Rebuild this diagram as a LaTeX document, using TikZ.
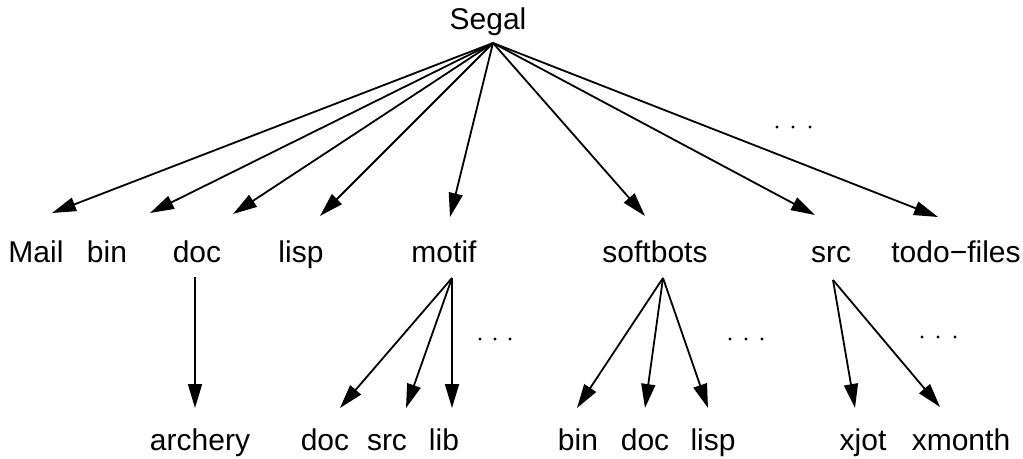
\documentclass[tikz,border=0pt]{standalone}
\usepackage{fontspec}
\setmainfont{Liberation Sans}
\usetikzlibrary{arrows.meta}
\begin{document}
\begin{tikzpicture}[x=1pt,y=-1pt,
  lbl/.style={anchor=base,inner sep=0pt,font=\fontsize{30}{36}\selectfont},
  arr/.style={line width=1.8pt,-{Triangle[length=24pt,width=14pt]}},
  dotmark/.style={circle,fill,inner sep=0pt,minimum size=3.4pt}]
\useasboundingbox (0,0) rectangle (1023,458);
% labels
\node[lbl] (segal) at (488,29) {Segal};
\node[lbl] (mail) at (36,262) {Mail};
\node[lbl] (bin) at (107,262) {bin};
\node[lbl] (doc) at (197,262) {doc};
\node[lbl] (lisp) at (301,262) {lisp};
\node[lbl] (motif) at (444,262) {motif};
\node[lbl] (softbots) at (655,262) {softbots};
\node[lbl] (src) at (831,262) {src};
\node[lbl] (todo) at (956,262) {todo−files};
\node[lbl] (archery) at (200,450) {archery};
\node[lbl] (mdoc) at (325,450) {doc};
\node[lbl] (msrc) at (387,450) {src};
\node[lbl] (mlib) at (444,450) {lib};
\node[lbl] (sbin) at (578,450) {bin};
\node[lbl] (sdoc) at (645,450) {doc};
\node[lbl] (slisp) at (713,450) {lisp};
\node[lbl] (xjot) at (863,450) {xjot};
\node[lbl] (xmonth) at (961,450) {xmonth};
% connector end points
\coordinate (segal-out) at (493,43);
\coordinate (mail-in) at (52,213);
\coordinate (bin-in) at (150,213);
\coordinate (doc-in) at (233,214);
\coordinate (lisp-in) at (320,216);
\coordinate (motif-in) at (450,217);
\coordinate (softbots-in) at (645,216);
\coordinate (src-in) at (815,215);
\coordinate (todo-in) at (938,217);
\coordinate (doc-out) at (195,277);
\coordinate (motif-out) at (452,278);
\coordinate (softbots-out) at (663,278);
\coordinate (src-out) at (833,280);
\coordinate (archery-in) at (195,408);
\coordinate (mdoc-in) at (340,408);
\coordinate (msrc-in) at (406,408);
\coordinate (mlib-in) at (452,408);
\coordinate (sbin-in) at (577,408);
\coordinate (sdoc-in) at (645,408);
\coordinate (slisp-in) at (708,408);
\coordinate (xjot-in) at (855,408);
\coordinate (xmonth-in) at (940,407);
% connectors
\foreach \t in {mail,bin,doc,lisp,motif,softbots,src,todo}
  \draw[arr] (segal-out) -- (\t-in);
\draw[arr] (doc-out) -- (archery-in);
\foreach \t in {mdoc,msrc,mlib}
  \draw[arr] (motif-out) -- (\t-in);
\foreach \t in {sbin,sdoc,slisp}
  \draw[arr] (softbots-out) -- (\t-in);
\foreach \t in {xjot,xmonth}
  \draw[arr] (src-out) -- (\t-in);
% ellipses
\foreach \x/\y/\n in {777/127/a,793/127/b,810/127/c,
                      480/339/d,495/339/e,510/339/f,
                      730/339/g,746/339/h,762/339/i,
                      922/337/j,938/337/k,955/337/l}
  \node[dotmark] (dot\n) at (\x,\y) {};
\end{tikzpicture}
\end{document}
